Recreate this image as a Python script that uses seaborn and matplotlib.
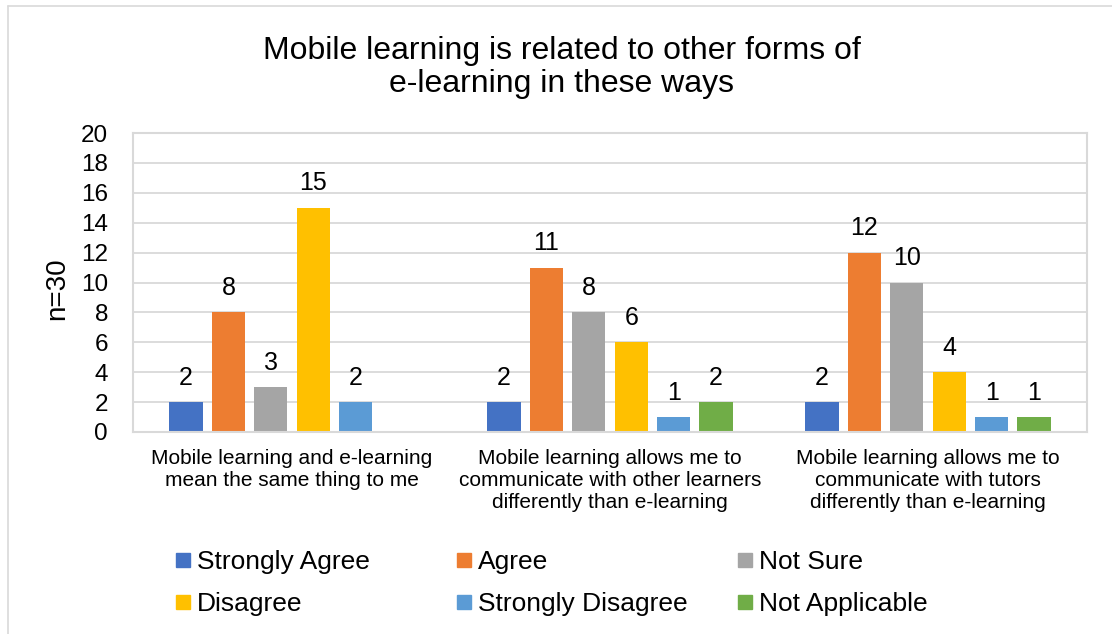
import numpy as np
import pandas as pd
import seaborn as sns
import matplotlib.pyplot as plt
from matplotlib.lines import Line2D

# survey answers, counts per statement (n=30)
statements = [
    "Mobile learning and e-learning\nmean the same thing to me",
    "Mobile learning allows me to\ncommunicate with other learners\ndifferently than e-learning",
    "Mobile learning allows me to\ncommunicate with tutors\ndifferently than e-learning",
]
responses = ["Strongly Agree", "Agree", "Not Sure", "Disagree",
             "Strongly Disagree", "Not Applicable"]
strongly_agree = [2, 2, 2]
agree = [8, 11, 12]
not_sure = [3, 8, 10]
disagree = [15, 6, 4]
strongly_disagree = [2, 1, 1]
not_applicable = [np.nan, 2, 1]

colors = ["#4472C4", "#ED7D31", "#A5A5A5", "#FFC000", "#5B9BD5", "#70AD47"]
grid_col = "#D9D9D9"


def main():
    series = [strongly_agree, agree, not_sure, disagree,
              strongly_disagree, not_applicable]
    rows = []
    for resp, vals in zip(responses, series):
        for stmt, v in zip(statements, vals):
            rows.append({"Statement": stmt, "Response": resp, "Count": v})
    df = pd.DataFrame(rows).dropna()

    sns.set_theme(style="white")
    plt.rcParams["font.family"] = ["Liberation Sans", "DejaVu Sans"]

    fig = plt.figure(figsize=(11.12, 6.34), dpi=100)
    ax = fig.add_axes([133 / 1112, 1 - 432 / 634, 954 / 1112, 299 / 634])

    sns.barplot(data=df, x="Statement", y="Count", hue="Response",
                order=statements, hue_order=responses, palette=colors,
                width=0.8, gap=0.22, errorbar=None, saturation=1,
                linewidth=0, legend=False, ax=ax)

    for c in ax.containers:
        ax.bar_label(c, fmt="%g", padding=9, fontsize=18, color="black")

    ax.set_ylim(0, 20)
    ax.set_yticks(range(0, 21, 2))
    ax.set_xlim(-0.5, 2.5)
    ax.yaxis.grid(True, color=grid_col, lw=1.3)
    ax.set_axisbelow(True)
    for s in ax.spines.values():
        s.set_color(grid_col)
        s.set_linewidth(1.5)
    ax.tick_params(axis="y", length=0, pad=18, labelsize=17.5, labelcolor="black")
    ax.tick_params(axis="x", length=0, pad=12, labelsize=15, labelcolor="black")
    ax.set_xlabel("")
    ax.set_ylabel("n=30", fontsize=20, color="black")
    ax.yaxis.set_label_coords(-0.066, 0.48)

    fig.text(0.505, 0.8935,
             "Mobile learning is related to other forms of\ne-learning in these ways",
             ha="center", va="center", fontsize=23, linespacing=1.13, color="black")

    # legend: three columns, two rows, equal column pitch
    col_x = [176, 457, 738]
    for i, x in enumerate(col_x):
        idx = [i, i + 3]
        handles = [Line2D([], [], marker="s", ls="none", markersize=10.5,
                          markerfacecolor=colors[k], markeredgecolor=colors[k])
                   for k in idx]
        labels = [responses[k] for k in idx]
        fig.legend(handles, labels, loc="upper left",
                   bbox_to_anchor=(x / 1112, 1 - 550 / 634),
                   frameon=False, fontsize=19, handlelength=0.55,
                   handletextpad=0.25, borderpad=0, borderaxespad=0,
                   labelspacing=0.68, labelcolor="black")

    # outer chart-area border (only left/top visible in the crop)
    fig.add_artist(Line2D([8 / 1112, 8 / 1112], [0, 1 - 5.5 / 634],
                          transform=fig.transFigure, color=grid_col, lw=1.2))
    fig.add_artist(Line2D([8 / 1112, 1], [1 - 5.5 / 634, 1 - 5.5 / 634],
                          transform=fig.transFigure, color=grid_col, lw=1.2))

    fig.savefig("out.png", dpi=100)


if __name__ == "__main__":
    main()
